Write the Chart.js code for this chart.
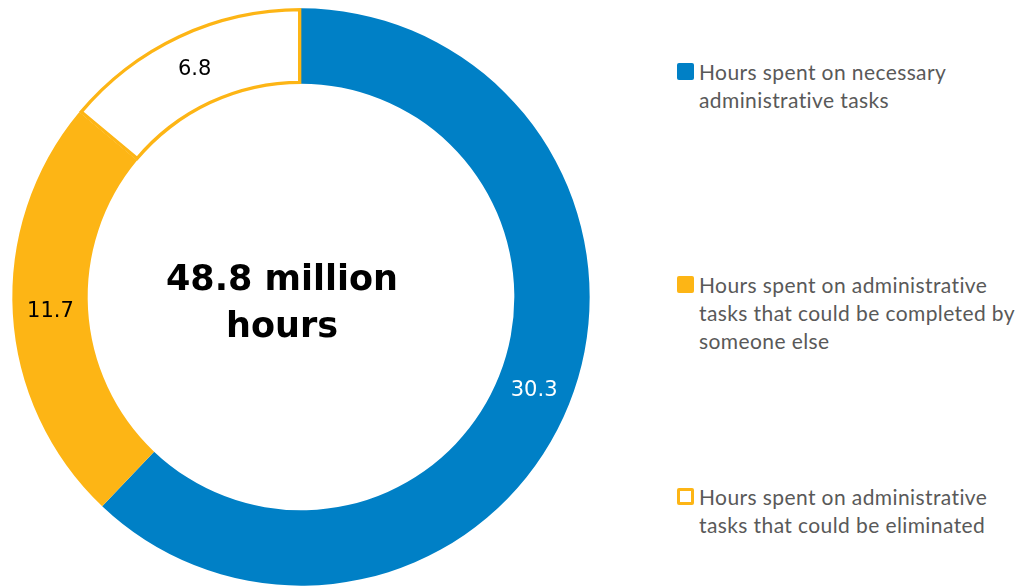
<!DOCTYPE html>
<html>
<head>
<meta charset="utf-8">
<script src="https://cdn.jsdelivr.net/npm/chart.js@4"></script>
<style>
  body { margin: 0; background: #fff; }
  #wrap { position: relative; width: 1024px; height: 588px; overflow: hidden; }
  #chartBox { position: absolute; left: 0; top: 0; width: 602px; height: 588px; }
  .item { position: absolute; left: 677px; font-family: Lato, "Open Sans", sans-serif; font-size: 21px; letter-spacing: 0.4px; line-height: 28px; color: #595959; white-space: nowrap; }
  .item .box { position: absolute; left: 0; top: 5px; width: 17px; height: 17px; border-radius: 2px; box-sizing: border-box; }
  .item .txt { margin-left: 22px; }
</style>
</head>
<body>
<div id="wrap">
  <div id="chartBox"><canvas id="myChart"></canvas></div>
  <div id="legend"></div>
</div>
<script>
const labels = [
  ["Hours spent on necessary", "administrative tasks"],
  ["Hours spent on administrative", "tasks that could be completed by", "someone else"],
  ["Hours spent on administrative", "tasks that could be eliminated"]
];
const hours = [30.3, 11.7, 6.8];
const totalText = ["48.8 million", "hours"];

const blue = "#0080C6";
const gold = "#FDB515";
const fills = [blue, gold, "#ffffff"];
const labelColors = ["#ffffff", "#000000", "#000000"];

// values written on each segment, plus the total in the hole
const segmentText = {
  id: "segmentText",
  afterDatasetsDraw(chart) {
    const ctx = chart.ctx;
    const arcs = chart.getDatasetMeta(0).data;
    ctx.save();
    ctx.textAlign = "center";
    ctx.textBaseline = "middle";
    ctx.font = "21px 'DejaVu Sans'";
    arcs.forEach((arc, i) => {
      const p = arc.getCenterPoint();
      ctx.fillStyle = labelColors[i];
      ctx.fillText(hours[i].toFixed(1), p.x, p.y);
    });
    // total sits a little left of the ring's centre
    const cx = arcs[0].x - 19;
    ctx.font = "bold 35px 'DejaVu Sans'";
    ctx.fillStyle = "#000";
    ctx.textBaseline = "alphabetic";
    ctx.fillText(totalText[0], cx, 290);
    ctx.fillText(totalText[1], cx, 337);
    ctx.restore();
  }
};

new Chart(document.getElementById("myChart"), {
  type: "doughnut",
  data: {
    labels: labels.map(l => l.join(" ")),
    datasets: [{
      data: hours,
      backgroundColor: fills,
      borderColor: [blue, gold, gold],
      borderWidth: [0, 0, 3],
      borderAlign: "inner",
      radius: 289,
      cutout: "73.7%"
    }]
  },
  options: {
    responsive: true,
    maintainAspectRatio: false,
    animation: false,
    layout: { padding: { top: 6 } },
    plugins: { legend: { display: false }, tooltip: { enabled: false } }
  },
  plugins: [segmentText]
});

// legend beside the chart
const tops = [58, 271, 483];
const legend = document.getElementById("legend");
labels.forEach((lines, i) => {
  const item = document.createElement("div");
  item.className = "item";
  item.style.top = tops[i] + "px";
  const box = document.createElement("div");
  box.className = "box";
  if (i === 2) {
    box.style.background = "#fff";
    box.style.border = "3px solid " + gold;
  } else {
    box.style.background = fills[i];
  }
  const txt = document.createElement("div");
  txt.className = "txt";
  txt.innerHTML = lines.join("<br>");
  item.appendChild(box);
  item.appendChild(txt);
  legend.appendChild(item);
});
</script>
</body>
</html>
